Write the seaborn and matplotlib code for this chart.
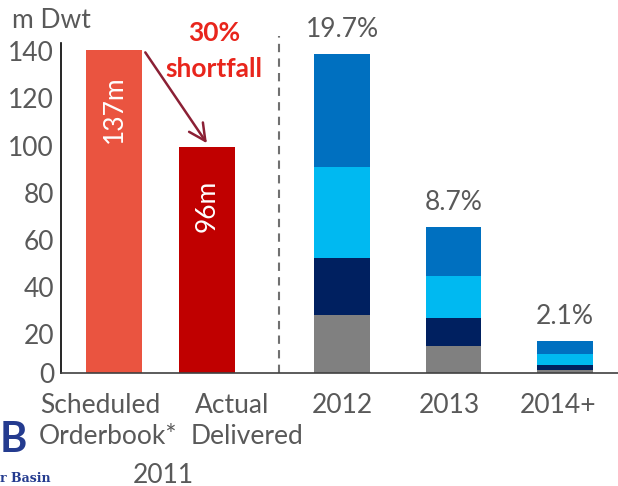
import numpy as np
import pandas as pd
import seaborn as sns
import matplotlib.pyplot as plt
from matplotlib.transforms import ScaledTranslation

# data
left_labels = ["Scheduled\nOrderbook*", "Actual\nDelivered"]
left_values = [137, 96]
left_text = ["137m", "96m"]

years = ["2012", "2013", "2014+"]
layers = ["gray", "navy", "light", "blue"]
gray_vals = [24.6, 11.5, 1.4]
navy_vals = [24.4, 11.7, 1.9]
light_vals = [38.5, 18.0, 4.6]
blue_vals = [48.0, 20.8, 5.6]
year_pct = ["19.7%", "8.7%", "2.1%"]

# layout (x in hundreds of pixels)
left_x = [1.145, 2.035]
year_x = [3.33, 4.40, 5.465]
bar_w = 0.53

sns.set_theme(style="white")
plt.rcParams["font.family"] = ["Lato", "DejaVu Sans"]
grey_txt = "#595959"
fs = 19

fig = plt.figure(figsize=(6.18, 4.86), dpi=100)
ax = fig.add_axes([0.0987, 0.2325, 0.9013, 0.679])

# left pair
left_df = pd.DataFrame({"x": left_x, "val": left_values, "lab": left_text})
sns.barplot(data=left_df, x="x", y="val", hue="lab", palette=["#EA5440", "#C00000"],
            native_scale=True, dodge=False, width=bar_w / np.diff(left_x).min(),
            saturation=1, linewidth=0, errorbar=None, legend=False, ax=ax)

# stacked years: draw cumulative tops, tallest first
stack = pd.DataFrame({"gray": gray_vals, "navy": navy_vals,
                      "light": light_vals, "blue": blue_vals})
cum = stack.cumsum(axis=1)
colors = {"gray": "#808080", "navy": "#002060", "light": "#00B9F1", "blue": "#0070C0"}
for layer in reversed(layers):
    sns.barplot(x=year_x, y=cum[layer].values, color=colors[layer], native_scale=True,
                width=bar_w / np.diff(year_x).min(), saturation=1, linewidth=0,
                errorbar=None, ax=ax)

ax.set_xbound(0.61, 6.18)
ax.set_ylim(0, 140)
ax.set_yticks(range(0, 141, 20))
ax.set_yticklabels([str(v) for v in range(0, 141, 20)], fontsize=fs, color=grey_txt)
ax.tick_params(axis="y", length=0, pad=5)
# labels sit a little below their gridline, as in the original slide
shift = ScaledTranslation(0, -6 / 72, fig.dpi_scale_trans)
for lab in ax.get_yticklabels()[1:]:
    lab.set_transform(lab.get_transform() + shift)
ax.set_xticks([])
ax.set_xlabel("")
ax.set_ylabel("")
for s in ["top", "right"]:
    ax.spines[s].set_visible(False)
ax.spines["left"].set_color("black")
ax.spines["left"].set_linewidth(1.2)
ax.spines["bottom"].set_color("#404040")
ax.spines["bottom"].set_linewidth(1.2)

# value labels in bars
for x, v, t in zip(left_x, left_values, left_text):
    ax.text(x, v - 25, t, rotation=90, ha="center", va="center", color="white", fontsize=fs)

# percentage labels above stacks
for x, top, p in zip(year_x, cum["blue"].values, year_pct):
    ax.text(x, top + 5, p, ha="center", va="bottom", color=grey_txt, fontsize=fs)

# divider and arrow
ax.plot([2.73, 2.73], [0, 143], ls=(0, (4, 3)), color="#707070", lw=1.5, clip_on=False)
ax.annotate("", xy=(2.05, 96.5), xytext=(1.43, 137),
            arrowprops=dict(arrowstyle="->", color="#8B2035", lw=1.8, mutation_scale=30))

# figure texts
fig.text(12 / 618, 1 - 21 / 486, "m Dwt", fontsize=fs, color=grey_txt, va="center")
fig.text(214 / 618, 1 - 33 / 486, "30%", fontsize=fs, color="#E8251C", weight="bold",
         ha="center", va="center")
fig.text(214 / 618, 1 - 69 / 486, "shortfall", fontsize=fs, color="#E8251C", weight="bold",
         ha="center", va="center")

fig.text(40 / 618, 1 - 405 / 486, "Scheduled", fontsize=fs, color=grey_txt, va="center")
fig.text(39 / 618, 1 - 436 / 486, "Orderbook*", fontsize=fs, color=grey_txt, va="center")
fig.text(195 / 618, 1 - 405 / 486, "Actual", fontsize=fs, color=grey_txt, va="center")
fig.text(191 / 618, 1 - 436 / 486, "Delivered", fontsize=fs, color=grey_txt, va="center")
fig.text(163 / 618, 1 - 475 / 486, "2011", fontsize=fs, color=grey_txt, ha="center", va="center")
for cx, y in zip([342, 449, 558], years):
    fig.text(cx / 618, 1 - 405 / 486, y, fontsize=fs, color=grey_txt, ha="center", va="center")

# partial logo
fig.text(0.0, 1 - 440 / 486, "B", fontsize=30, color="#243B8F", weight="bold",
         va="center")
fig.text(0.0, 1 - 478 / 486, "r Basin", fontsize=9, color="#243B8F", weight="bold",
         family="DejaVu Serif", va="center")

fig.savefig("out.png", dpi=100)
